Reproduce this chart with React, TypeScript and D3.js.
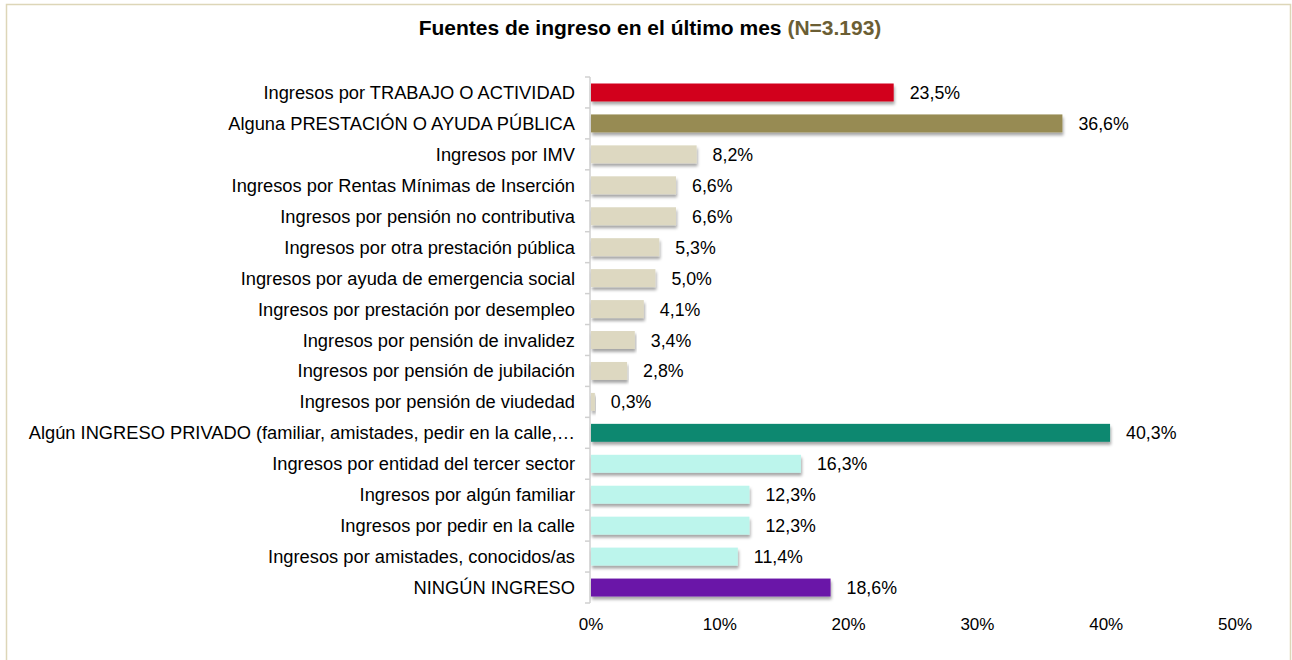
import React from 'react';
import * as d3 from 'd3';

const categories = [
  'Ingresos por TRABAJO O ACTIVIDAD',
  'Alguna PRESTACIÓN O AYUDA PÚBLICA',
  'Ingresos por IMV',
  'Ingresos por Rentas Mínimas de Inserción',
  'Ingresos por pensión no contributiva',
  'Ingresos por otra prestación pública',
  'Ingresos por ayuda de emergencia social',
  'Ingresos por prestación por desempleo',
  'Ingresos por pensión de invalidez',
  'Ingresos por pensión de jubilación',
  'Ingresos por pensión de viudedad',
  'Algún INGRESO PRIVADO (familiar, amistades, pedir en la calle,…',
  'Ingresos por entidad del tercer sector',
  'Ingresos por algún familiar',
  'Ingresos por pedir en la calle',
  'Ingresos por amistades, conocidos/as',
  'NINGÚN INGRESO',
];
const values = [23.5, 36.6, 8.2, 6.6, 6.6, 5.3, 5.0, 4.1, 3.4, 2.8, 0.3, 40.3, 16.3, 12.3, 12.3, 11.4, 18.6];
const groups = ['trabajo', 'publica', 'pub', 'pub', 'pub', 'pub', 'pub', 'pub', 'pub', 'pub', 'pub', 'privado', 'priv', 'priv', 'priv', 'priv', 'ninguno'];
const groupColors: Record<string, string> = {
  trabajo: '#d2001f',
  publica: '#978b52',
  pub: '#ddd8c1',
  privado: '#0e8870',
  priv: '#bcf5ec',
  ninguno: '#6a16a8',
};
const xTicks = [0, 10, 20, 30, 40, 50];

const fmt = (v: number) => v.toFixed(1).replace('.', ',') + '%';

export default function App() {
  const width = 1292;
  const height = 660;
  const margin = { t: 77, b: 57, l: 591, r: 57 };

  const x = d3.scaleLinear().domain([0, 50]).range([margin.l, width - margin.r]);
  const y = d3.scaleBand<number>()
    .domain(d3.range(categories.length))
    .range([margin.t, height - margin.b])
    .paddingInner(0.42)
    .paddingOuter(0.21);

  const font = '"Liberation Sans", Arial, sans-serif';
  const bh = y.bandwidth();
  const step = y.step();

  return (
    <svg width={width} height={height} style={{ position: 'absolute', left: 0, top: 0 }} fontFamily={font}>
      <defs>
        <filter id="shadow" x="-5%" y="-30%" width="110%" height="180%">
          <feDropShadow dx="1" dy="3" stdDeviation="1.8" floodColor="#000" floodOpacity="0.35" />
        </filter>
      </defs>
      <rect x={0} y={0} width={width} height={height} fill="#fff" />
      <path d={`M6.5,${height} V4.5 H1290.5 V${height}`} fill="none" stroke="#ddd6b8" strokeWidth={1.5} />

      <text x={650} y={35} textAnchor="middle" fontSize={21} fontWeight="bold" fill="#000">
        Fuentes de ingreso en el último mes <tspan fill="#6b5e34">(N=3.193)</tspan>
      </text>

      {/* y axis */}
      <line x1={margin.l - 1} x2={margin.l - 1} y1={margin.t} y2={height - margin.b} stroke="#d0d0d0" strokeWidth={1.5} />
      {d3.range(categories.length + 1).map(i => {
        const yy = margin.t + i * step;
        return <line key={i} x1={margin.l - 6} x2={margin.l - 1} y1={yy} y2={yy} stroke="#d0d0d0" strokeWidth={1.5} />;
      })}

      {values.map((v, i) => (
        <rect key={i} x={x(0)} y={y(i)!} width={x(v) - x(0)} height={bh}
          fill={groupColors[groups[i]]} filter="url(#shadow)" />
      ))}

      {values.map((v, i) => (
        <text key={i} x={x(v) + 16} y={y(i)! + bh / 2 + 6.5} fontSize={17.8} fill="#000">{fmt(v)}</text>
      ))}

      {categories.map((c, i) => (
        <text key={i} x={margin.l - 16} y={y(i)! + bh / 2 + 6.5} fontSize={18.3} textAnchor="end" fill="#000">{c}</text>
      ))}

      {xTicks.map(t => (
        <text key={t} x={x(t)} y={630} fontSize={17} textAnchor="middle" fill="#000">{t}%</text>
      ))}
    </svg>
  );
}
